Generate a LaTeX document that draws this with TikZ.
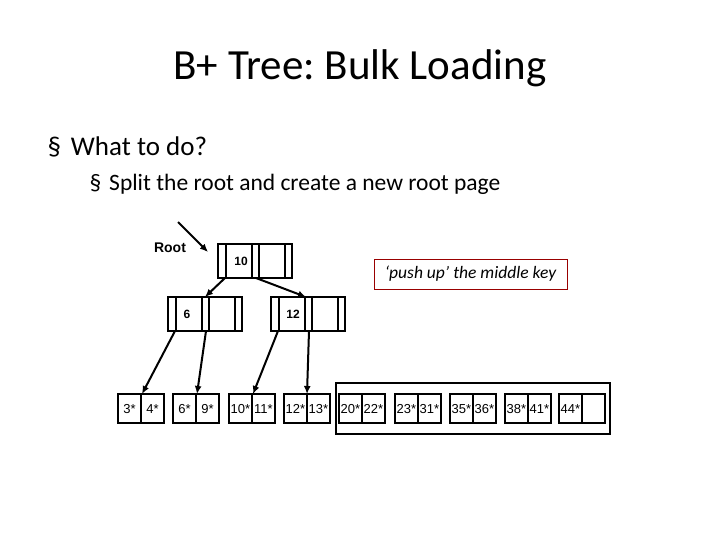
\documentclass[tikz,border=0pt]{standalone}
\usepackage{fontspec}
\usetikzlibrary{arrows.meta}
\setmainfont{Carlito}
\newfontfamily\arial{Liberation Sans}
\frenchspacing
\begin{document}
\begin{tikzpicture}[x=1pt,y=-1pt,
  box/.style={draw,line width=2pt},
  ln/.style={line width=2pt},
  arr/.style={line width=2pt,-{Latex[length=8pt,width=7pt]}},
  key/.style={font=\arial\bfseries\fontsize{12}{12}\selectfont},
  lk/.style={font=\arial\fontsize{13}{13}\selectfont,inner sep=0pt}]
\useasboundingbox (0,0) rectangle (720,540);
\node (title) at (360,68) {\fontsize{43}{48}\selectfont B+ Tree: Bulk Loading};
\node[anchor=west] (b1) at (44,147) {\fontsize{27}{30}\selectfont §\hspace{10pt}What to do?};
\node[anchor=west] (b2) at (86,184) {\fontsize{23.5}{26}\selectfont §\hspace{8pt}Split the root and create a new root page};
\newcommand\inode[6]{%
  \draw[box] (#1,#2) rectangle (#1+74,#2+34);
  \foreach \dx in {8,34,41,67} \draw[ln] (#1+\dx,#2) -- (#1+\dx,#2+34);
  \node[key] (#3) at (#1+#4,#2+17) {#5};
  \coordinate (#3a) at (#1+7,#2+34);
  \coordinate (#3b) at (#1+38,#2+34);}
\inode{218}{244}{r}{23}{10}{}
\inode{168}{297}{n6}{19}{6}{}
\inode{271}{297}{n12}{22}{12}{}
\newcommand\leaf[5]{%
  \draw[box] (#1,394) rectangle (#1+46,423);
  \draw[ln] (#1+23,394) -- (#1+23,423);
  \node[lk] (#5a) at (#1+11.5,409) {#2};
  \node[lk] (#5b) at (#1+34.5,409) {#3};
  \coordinate (#5) at (#1+#4,394);}
\leaf{118}{3*}{4*}{24}{l1}
\leaf{173}{6*}{9*}{24}{l2}
\leaf{229}{10*}{11*}{24}{l3}
\leaf{284}{12*}{13*}{23}{l4}
\leaf{339}{20*}{22*}{23}{l5}
\leaf{395}{23*}{31*}{23}{l6}
\leaf{450}{35*}{36*}{23}{l7}
\leaf{505}{38*}{41*}{23}{l8}
\leaf{559}{44*}{}{23}{l9}
\draw[box] (336,383) rectangle (610,434);
\node[font=\arial\bfseries\fontsize{14}{14}\selectfont] (root) at (170,248) {Root};
\coordinate (rs) at (178,222);
\coordinate (re) at (208,252);
\draw[arr] (rs) -- (re);
\coordinate (n6t) at (205,297);
\coordinate (n12t) at (306,297);
\draw[arr] (ra) -- (n6t);
\draw[arr] (rb) -- (n12t);
\draw[arr] (n6a) -- (l1);
\draw[arr] (n6b) -- (l2);
\draw[arr] (n12a) -- (l3);
\draw[arr] (n12b) -- (l4);
\node[draw=red!60!black,line width=0.8pt,minimum width=193pt,minimum height=30pt,font=\itshape\fontsize{17.5}{19}\selectfont] (push) at (470.5,274) {‘push up’ the middle key};
\end{tikzpicture}
\end{document}
